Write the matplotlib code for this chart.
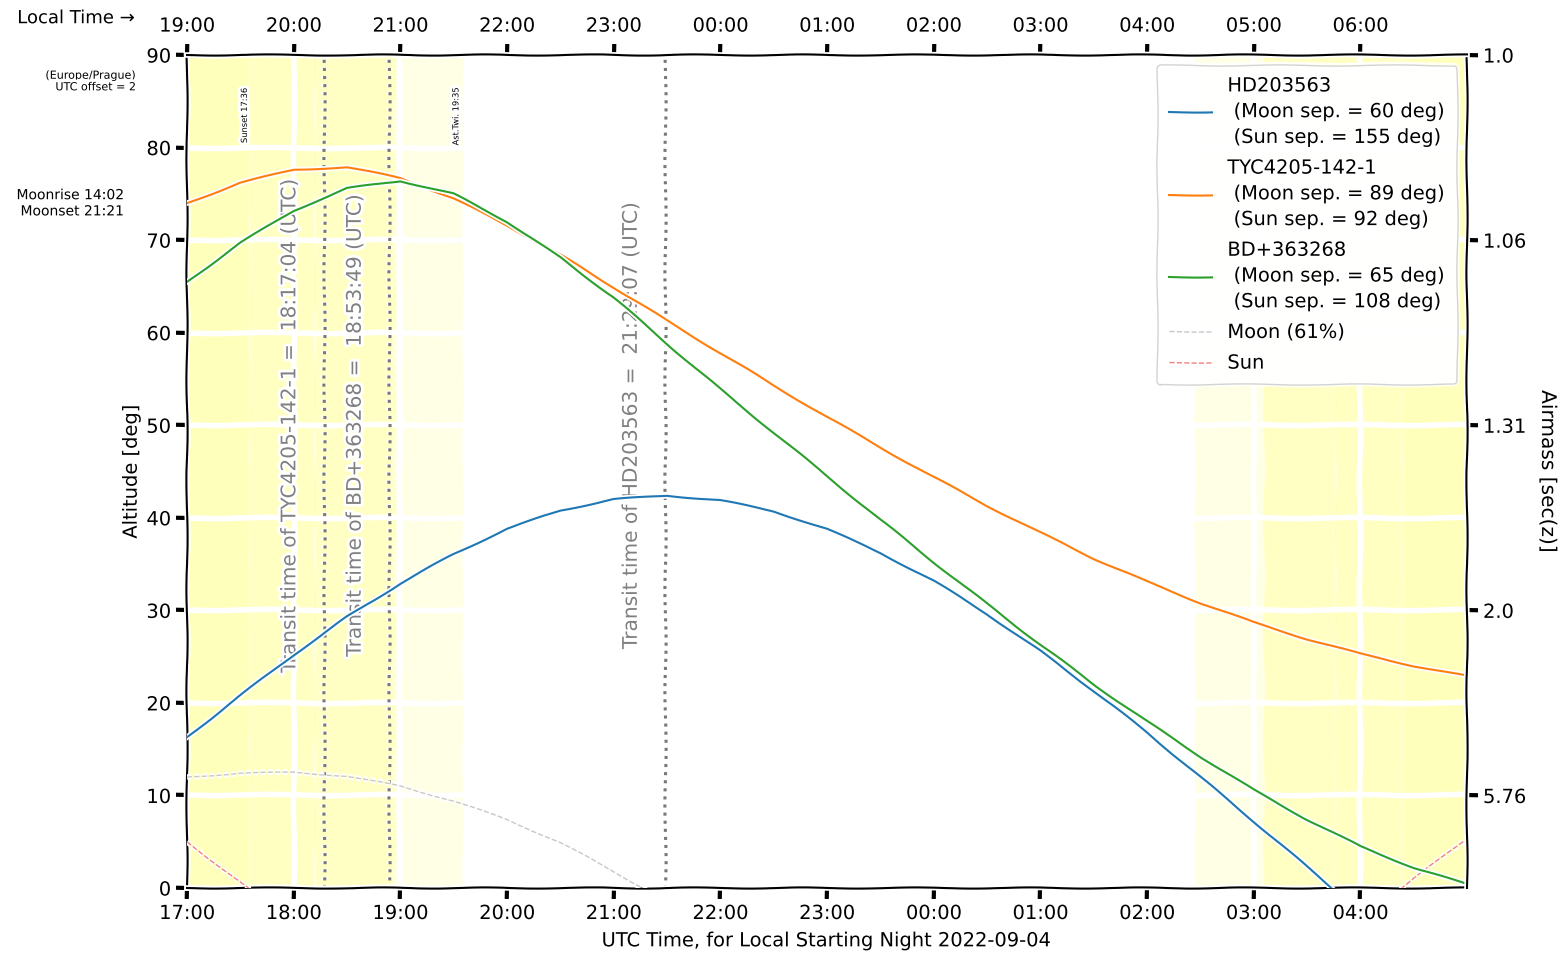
import matplotlib
matplotlib.use("Agg")
import matplotlib.pyplot as plt

# hours after 00:00 UTC of the starting night (24+ = next morning)
hours = [17.0, 17.5, 18.0, 18.5, 19.0, 19.5, 20.0, 20.5, 21.0, 21.5, 22.0, 22.5,
         23.0, 23.5, 24.0, 24.5, 25.0, 25.5, 26.0, 26.5, 27.0, 27.5, 28.0, 28.5, 29.0]

alt_hd203563 = [16.3, 20.8, 25.2, 29.3, 32.9, 36.1, 38.8, 40.8, 42.0, 42.4, 41.9, 40.7,
                38.8, 36.2, 33.2, 29.6, 25.6, 21.3, 16.8, 12.0, 7.2, 2.3, -2.6, -7.0, -11.5]
alt_tyc4205 = [74.0, 76.2, 77.6, 77.9, 76.7, 74.5, 71.6, 68.4, 64.9, 61.3, 57.8, 54.3,
               50.9, 47.6, 44.4, 41.3, 38.4, 35.6, 33.1, 30.8, 28.7, 26.9, 25.3, 24.0, 22.9]
alt_bd363268 = [65.5, 69.7, 73.2, 75.6, 76.4, 75.0, 72.0, 68.1, 63.8, 58.8, 53.9, 49.2,
                44.5, 39.8, 35.2, 30.7, 26.3, 22.0, 18.0, 14.2, 10.6, 7.4, 4.5, 2.2, 0.4]

moon_hours = [17.0, 17.5, 18.0, 18.5, 19.0, 19.5, 20.0, 20.5, 21.0, 21.5]
moon_alt = [12.0, 12.4, 12.5, 12.1, 11.0, 9.4, 7.4, 4.9, 1.8, -1.5]

sun_eve_hours = [17.0, 17.25, 17.5, 17.75]
sun_eve_alt = [5.0, 2.8, 0.6, -1.6]
sun_morn_hours = [28.0, 28.25, 28.5, 28.75, 29.0]
sun_morn_alt = [-3.6, -1.3, 1.0, 3.2, 5.4]

target_labels = [
    "HD203563\n (Moon sep. = 60 deg)\n (Sun sep. = 155 deg)",
    "TYC4205-142-1\n (Moon sep. = 89 deg)\n (Sun sep. = 92 deg)",
    "BD+363268\n (Moon sep. = 65 deg)\n (Sun sep. = 108 deg)",
]
target_colors = ["tab:blue", "tab:orange", "tab:green"]

transit_names = ["TYC4205-142-1", "BD+363268", "HD203563"]
transit_hours = [18.284, 18.897, 21.485]
transit_strings = ["18:17:04", "18:53:49", "21:29:07"]

# twilight bands: (start, end, alpha)
twilight_bands = [
    (17.0, 17.6, 0.14), (17.6, 18.2, 0.13), (18.2, 18.95, 0.12), (18.95, 19.583, 0.05),
    (26.45, 27.1, 0.05), (27.1, 27.77, 0.12), (27.77, 28.4, 0.13), (28.4, 29.0, 0.14),
]
twilight_marks = [(17.6, "Sunset 17:36"), (19.583, "Ast.Twi. 19:35")]

tick_hours = list(range(17, 29))
utc_labels = ["17:00", "18:00", "19:00", "20:00", "21:00", "22:00",
              "23:00", "00:00", "01:00", "02:00", "03:00", "04:00"]
local_labels = ["19:00", "20:00", "21:00", "22:00", "23:00", "00:00",
                "01:00", "02:00", "03:00", "04:00", "05:00", "06:00"]

airmass_alts = [90, 70, 50, 30, 10]
airmass_labels = ["1.0", "1.06", "1.31", "2.0", "5.76"]

plt.xkcd(scale=0.6, length=120, randomness=2)
plt.rcParams["font.family"] = ["DejaVu Sans"]

fig = plt.figure(figsize=(15.65, 9.59), dpi=100)
ax = fig.add_axes([0.1195, 0.074, 0.8179, 0.8686])

for start, end, a in twilight_bands:
    ax.axvspan(start, end, color="yellow", alpha=a, lw=0, zorder=0)
for h, txt in twilight_marks:
    ax.text(h - 0.02, 86.5, txt, rotation=90, ha="right", va="top", fontsize=6, zorder=1.9)

for h, name, s in zip(transit_hours, transit_names, transit_strings):
    ax.axvline(h, color="#777777", ls=":", lw=2.2, zorder=1.8)
    ax.text(h - 0.32, 50, f"Transit time of {name} =  {s} (UTC)", rotation=90,
            ha="center", va="center", color="grey", fontsize=14.5, zorder=1.9)

for alts, lab, col in zip([alt_hd203563, alt_tyc4205, alt_bd363268], target_labels, target_colors):
    ax.plot(hours, alts, color=col, lw=1.5, label=lab, zorder=4)
ax.plot(moon_hours, moon_alt, color="#c8c8c8", ls="--", lw=1.0, label="Moon (61%)", zorder=3)
ax.plot(sun_eve_hours, sun_eve_alt, color="#f08080", ls="--", lw=1.0, label="Sun", zorder=3)
ax.plot(sun_morn_hours, sun_morn_alt, color="#f08080", ls="--", lw=1.0, zorder=3)

ax.set_xlim(17, 29)
ax.set_ylim(0, 90)
ax.set_yticks(range(0, 91, 10))
ax.set_xticks(tick_hours)
ax.set_xticklabels(utc_labels)
ax.tick_params(labelsize=14)
ax.grid(True)
ax.set_ylabel("Altitude [deg]", fontsize=14)
ax.set_xlabel("UTC Time, for Local Starting Night 2022-09-04", fontsize=14, labelpad=6)
ax.spines["top"].set_visible(False)
ax.spines["right"].set_visible(False)

leg = ax.legend(loc="upper right", fontsize=14, framealpha=0.85, handlelength=2.2,
                labelspacing=0.6, borderpad=0.6)
for t in leg.get_texts():
    t.set_linespacing(1.45)
leg.set_zorder(10)

ax2 = ax.twinx()
ax2.set_ylim(0, 90)
ax2.set_yticks(airmass_alts)
ax2.set_yticklabels(airmass_labels)
ax2.tick_params(labelsize=14)
ax2.set_ylabel("Airmass [sec(z)]", rotation=270, fontsize=14.5, labelpad=22)
for side in ["top", "bottom", "left"]:
    ax2.spines[side].set_visible(False)

ax3 = ax.twiny()
ax3.set_xlim(17, 29)
ax3.set_xticks(tick_hours)
ax3.set_xticklabels(local_labels)
ax3.tick_params(labelsize=14, pad=6)
for side in ["right", "bottom", "left"]:
    ax3.spines[side].set_visible(False)

fig.text(0.011, 0.981, "Local Time \u2192", fontsize=13, va="center", ha="left")
fig.text(0.087, 0.915, "(Europe/Prague)\nUTC offset = 2", fontsize=8, ha="right",
         va="center", multialignment="right")
fig.text(0.079, 0.788, "Moonrise 14:02\nMoonset 21:21", fontsize=10, ha="right",
         va="center", multialignment="right")

fig.savefig("out.png", dpi=100)
